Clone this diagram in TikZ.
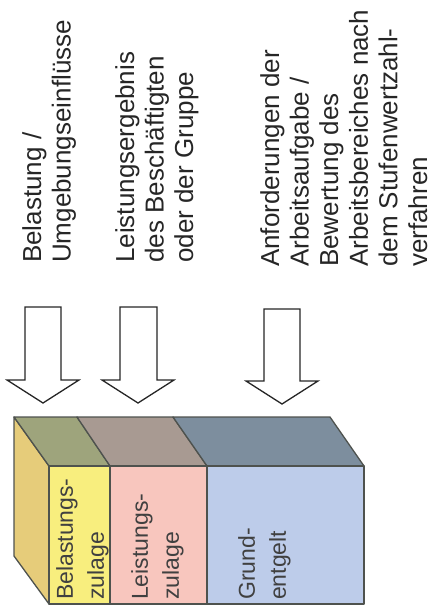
\documentclass[tikz,border=0pt]{standalone}
\usepackage{fontspec}
\setmainfont{Liberation Sans}

\definecolor{sideYellow}{HTML}{E6CC7A}
\definecolor{topYellow}{HTML}{9EA47C}
\definecolor{topPink}{HTML}{A89A92}
\definecolor{topBlue}{HTML}{7D8E9E}
\definecolor{frontYellow}{HTML}{F8EE7E}
\definecolor{frontPink}{HTML}{F8C6BE}
\definecolor{frontBlue}{HTML}{BDCCEA}
\definecolor{edgeGray}{HTML}{4E524E}

\begin{document}
\begin{tikzpicture}[x = 1pt, y = -1pt]
\tikzstyle{blockArrow} = [draw = black!85, line width = 1.3pt, fill = white, line join = miter]
\tikzstyle{face} = [draw = edgeGray, line width = 1.3pt, line join = round]
\tikzstyle{headStyle} = [rotate = 90, anchor = north west, inner sep = 0pt, align = left, text = black!85, font = \fontsize{26}{29.6}\selectfont]
\tikzstyle{partStyle} = [rotate = 90, anchor = north west, inner sep = 0pt, align = left, text = black!75, font = \fontsize{23}{31}\selectfont]
\useasboundingbox (0,0) rectangle (436,612);
% influences
\node[headStyle] (belastung) at (22,263) {Belastung /\\Umgebungseinflüsse};
\node[headStyle] (leistung) at (115,263) {Leistungsergebnis\\des Beschäftigten\\oder der Gruppe};
\node[headStyle] (anforderung) at (260,267) {Anforderungen der\\Arbeitsaufgabe /\\Bewertung des\\Arbeitsbereiches nach\\dem Stufenwertzahl-\\verfahren};
% arrows
\draw[blockArrow] (25,307) -- (61,307) -- (61,380) -- (79,380) -- (43,403) -- (7,380) -- (25,380) -- cycle;
\draw[blockArrow] (120,307) -- (157,307) -- (157,380) -- (174,380) -- (138,403) -- (102,380) -- (120,380) -- cycle;
\draw[blockArrow] (264,309) -- (300,309) -- (300,381) -- (318,381) -- (282,404) -- (246,381) -- (264,381) -- cycle;
% box
\draw[face, fill = sideYellow] (14,417) -- (49,466) -- (49,604) -- (14,556) -- cycle;
\draw[face, fill = topYellow] (14,417) -- (77,417) -- (110,466) -- (49,466) -- cycle;
\draw[face, fill = topPink] (77,417) -- (173,417) -- (207,466) -- (110,466) -- cycle;
\draw[face, fill = topBlue] (173,417) -- (330,417) -- (364,466) -- (207,466) -- cycle;
\draw[face, fill = frontYellow] (49,466) rectangle (110,604);
\draw[face, fill = frontPink] (110,466) rectangle (207,604);
\draw[face, fill = frontBlue] (207,466) rectangle (364,604);
\node[partStyle] (belZulage) at (56,600) {Belastungs-\\zulage};
\node[partStyle] (leiZulage) at (131,600) {Leistungs-\\zulage};
\node[partStyle] (grund) at (238,600) {Grund-\\entgelt};
\end{tikzpicture}
\end{document}
